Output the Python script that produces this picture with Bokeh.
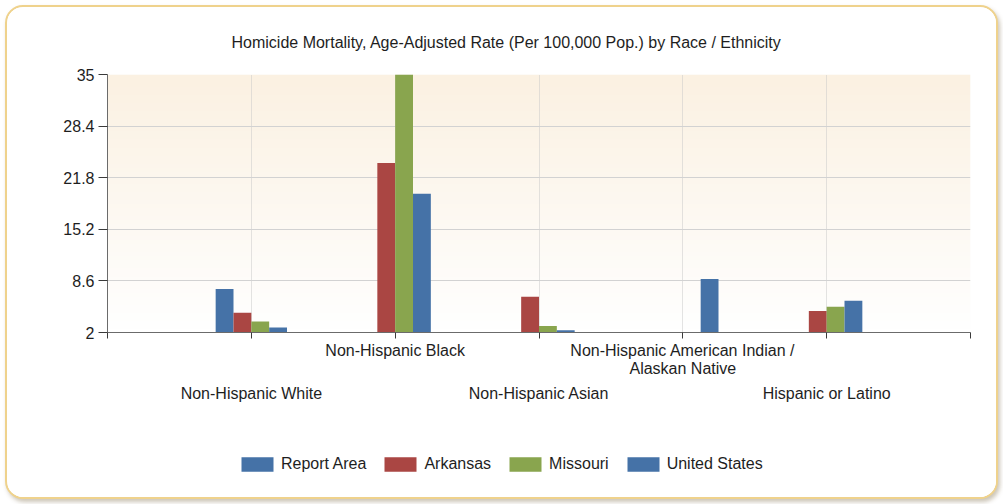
import numpy as np
from bokeh.plotting import figure
from bokeh.layouts import column
from bokeh.models import (ColumnDataSource, Range1d, FixedTicker, LinearAxis,
                          Legend, LegendItem, CustomJSTickFormatter)
from bokeh.transform import dodge
from bokeh.embed import file_html
from bokeh.resources import INLINE

# ---------------- data ----------------
categories = [
    "Non-Hispanic White",
    "Non-Hispanic Black",
    "Non-Hispanic Asian",
    "Non-Hispanic American Indian /\nAlaskan Native",
    "Hispanic or Latino",
]
series_names = ["Report Area", "Arkansas", "Missouri", "United States"]
report_area = [7.56, None, None, None, None]
arkansas = [4.52, 23.67, 6.58, None, 4.74]
missouri = [3.41, 35.0, 2.82, None, 5.30]
united_states = [2.64, 19.74, 2.30, 8.85, 6.06]
y_ticks = [2, 8.6, 15.2, 21.8, 28.4, 35]
y_tick_labels = ["2", "8.6", "15.2", "21.8", "28.4", "35"]

# ---------------- style ----------------
FONT = "Liberation Sans"
TEXT_COLOR = "#1e1e1e"
colors = ["#4572A7", "#AA4643", "#89A54E", "#4572A7"]
Y_MIN, Y_MAX = y_ticks[0], y_ticks[-1]
N = len(categories)
BAR_W = 0.124
W = 989

positions = list(range(1, N + 1))
nan = float("nan")
def clean(v):
    return [nan if x is None else x for x in v]

src = ColumnDataSource(dict(
    x=positions,
    ra=clean(report_area),
    ar=clean(arkansas),
    mo=clean(missouri),
    us=clean(united_states),
))

p = figure(width=W, height=433,
           x_range=Range1d(0, N + 1), y_range=Range1d(Y_MIN, Y_MAX),
           output_backend="svg", toolbar_location=None,
           min_border_left=100, min_border_right=26,
           min_border_top=67, min_border_bottom=108,
           x_axis_location=None, y_axis_location=None)
p.background_fill_color = "white"
p.border_fill_color = "white"
p.outline_line_color = None

# title
p.title.text = "Homicide Mortality, Age-Adjusted Rate (Per 100,000 Pop.) by Race / Ethnicity"
p.title.text_font = FONT
p.title.text_font_size = "16px"
p.title.text_font_style = "normal"
p.title.text_color = TEXT_COLOR
p.title.align = "left"
p.title.vertical_align = "top"
p.title.offset = 124
p.title.standoff = 43

# gradient background in the frame
rows = 64
img = np.zeros((rows, 1), dtype=np.uint32)
view = img.view(dtype=np.uint8).reshape((rows, 1, 4))
top_c = np.array([251, 241, 226])
bot_c = np.array([255, 255, 255])
for i in range(rows):
    t = i / (rows - 1)
    c = bot_c + (top_c - bot_c) * t
    view[i, 0, :3] = c.astype(np.uint8)
    view[i, 0, 3] = 255
bg = p.image_rgba(image=[img], x=0, y=Y_MIN, dw=N + 1, dh=Y_MAX - Y_MIN)
bg.level = "image"

# y axis
yax = LinearAxis(ticker=FixedTicker(ticks=y_ticks))
yax.major_label_overrides = {t: l for t, l in zip(y_ticks, y_tick_labels)}
yax.formatter = CustomJSTickFormatter(code="return String(+tick.toFixed(1))")
yax.major_label_text_font = FONT
yax.major_label_text_font_size = "16px"
yax.major_label_text_color = TEXT_COLOR
yax.axis_line_color = "#6b6b6b"
yax.major_tick_line_color = "#3a3a3a"
yax.major_tick_out = 9
yax.major_tick_in = 0
yax.minor_tick_line_color = None
yax.major_label_standoff = 4
p.add_layout(yax, "left")

# x axis (upper label row)
xticks = list(range(0, N + 2))
xax = LinearAxis(ticker=FixedTicker(ticks=xticks))
xax.formatter = CustomJSTickFormatter(code="return ''")
upper = {}
lower = {}
for i, c in enumerate(categories):
    (upper if i % 2 == 1 else lower)[positions[i]] = c
xax.major_label_overrides = {t: upper.get(t, "") for t in xticks}
xax.major_label_text_font = FONT
xax.major_label_text_font_size = "16px"
xax.major_label_text_color = TEXT_COLOR
xax.major_label_text_line_height = 1.1
xax.axis_line_color = "#6b6b6b"
xax.major_tick_line_color = "#3a3a3a"
xax.major_tick_out = 6
xax.major_tick_in = 0
xax.minor_tick_line_color = None
xax.major_label_standoff = 3
p.add_layout(xax, "below")

# x axis (lower label row)
xax2 = LinearAxis(ticker=FixedTicker(ticks=list(lower.keys())))
xax2.formatter = CustomJSTickFormatter(code="return ''")
xax2.major_label_overrides = lower
xax2.major_label_text_font = FONT
xax2.major_label_text_font_size = "16px"
xax2.major_label_text_color = TEXT_COLOR
xax2.axis_line_color = None
xax2.major_tick_line_color = None
xax2.minor_tick_line_color = None
xax2.major_tick_out = 0
xax2.major_tick_in = 0
xax2.major_label_standoff = 4
p.add_layout(xax2, "below")

# grids
p.xgrid.ticker = FixedTicker(ticks=xticks)
p.xgrid.grid_line_color = "#c8c8c8"
p.xgrid.grid_line_dash = "1 1"
p.ygrid.ticker = FixedTicker(ticks=y_ticks)
p.ygrid.grid_line_color = "#d2d2d2"

# bars
keys = ["ra", "ar", "mo", "us"]
bar_renderers = []
for j, (k, col) in enumerate(zip(keys, colors)):
    off = (j - 1.5) * BAR_W
    r = p.vbar(x=dodge("x", off), top=k, bottom=Y_MIN, width=BAR_W,
               source=src, fill_color=col, line_color=None)
    bar_renderers.append(r)

# legend strip (separate figure so the legend is not clipped)
leg = figure(width=W, height=57, x_range=Range1d(0, 1), y_range=Range1d(0, 1),
             output_backend="svg", toolbar_location=None, min_border=0,
             x_axis_location=None, y_axis_location=None)
leg.outline_line_color = None
leg.background_fill_color = "white"
leg.border_fill_color = "white"
leg.xgrid.visible = False
leg.ygrid.visible = False
items = []
for name, col in zip(series_names, colors):
    rr = leg.vbar(x=[nan], top=[nan], width=0.1, fill_color=col, line_color=None)
    items.append(LegendItem(label=name, renderers=[rr]))
legend = Legend(items=items, orientation="horizontal", location=(130, 24))
legend.glyph_width = 40
legend.glyph_height = 18
legend.label_standoff = 4
legend.spacing = 14
legend.padding = 0
legend.margin = 0
legend.border_line_color = None
legend.background_fill_alpha = 0
legend.label_text_font = FONT
legend.label_text_font_size = "16px"
legend.label_text_color = TEXT_COLOR
leg.add_layout(legend, "center")

lay = column(p, leg, spacing=0)
lay.styles = {"border": "2px solid #efd28c", "border-radius": "18px",
              "box-shadow": "2px 3px 4px rgba(110,90,50,0.35)",
              "margin-left": "5px", "margin-top": "5px",
              "background": "white", "overflow": "hidden"}

open("out.html", "w").write(file_html(lay, INLINE))
